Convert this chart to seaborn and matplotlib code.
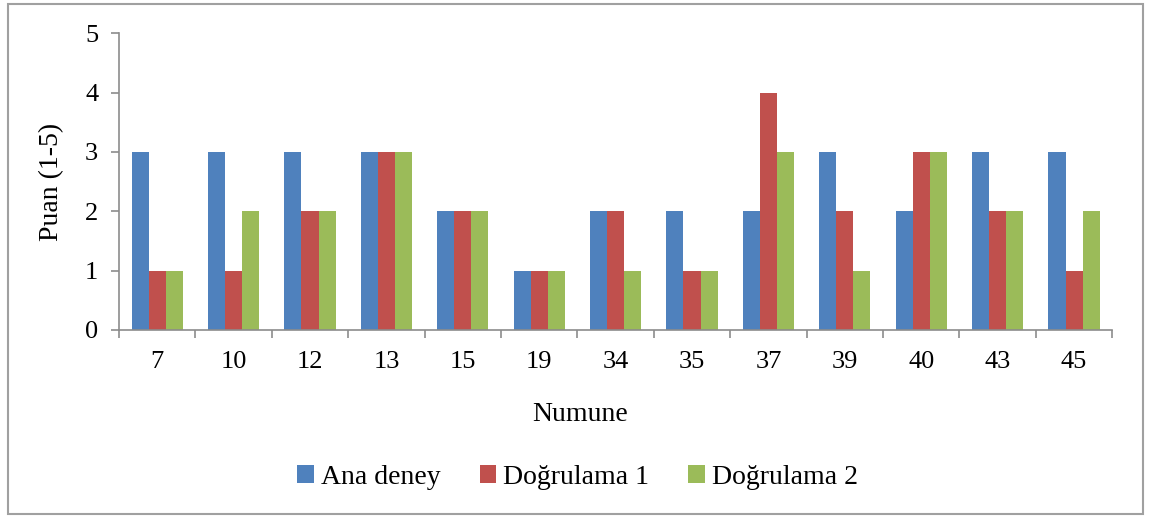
import matplotlib
matplotlib.use("Agg")
import matplotlib.pyplot as plt
from matplotlib.patches import Rectangle
import seaborn as sns
import pandas as pd

categories = ["7", "10", "12", "13", "15", "19", "34", "35", "37", "39", "40", "43", "45"]
ana_deney = [3, 3, 3, 3, 2, 1, 2, 2, 2, 3, 2, 3, 3]
dogrulama_1 = [1, 1, 2, 3, 2, 1, 2, 1, 4, 2, 3, 2, 1]
dogrulama_2 = [1, 2, 2, 3, 2, 1, 1, 1, 3, 1, 3, 2, 2]
series_names = ["Ana deney", "Doğrulama 1", "Doğrulama 2"]
colors = ["#4F81BD", "#C0504D", "#9BBB59"]

rows = []
for name, vals in zip(series_names, [ana_deney, dogrulama_1, dogrulama_2]):
    for c, v in zip(categories, vals):
        rows.append({"Numune": c, "Puan": v, "Seri": name})
df = pd.DataFrame(rows)

sns.set_theme(style="white")
plt.rcParams["font.family"] = ["Liberation Serif", "DejaVu Serif"]
plt.rcParams["text.color"] = "black"
plt.rcParams["axes.labelcolor"] = "black"

fig = plt.figure(figsize=(11.55, 5.18), dpi=100)
ax = fig.add_axes([0.103, 0.363, 0.860, 0.573])

sns.barplot(data=df, x="Numune", y="Puan", hue="Seri", order=categories,
            hue_order=series_names, palette=colors, width=0.67,
            saturation=1, linewidth=0, ax=ax, legend=True)

ax.set_ylim(0, 5)
ax.set_xlim(-0.5, len(categories) - 0.5)
ax.set_yticks([0, 1, 2, 3, 4, 5])

ax.set_xlabel("Numune", fontsize=20, color="black")
ax.xaxis.label.set_va("center")
ax.xaxis.set_label_coords(0.464, -0.286)
ax.set_ylabel("Puan (1-5)", fontsize=20, color="black")
ax.yaxis.label.set_va("center")
ax.yaxis.set_label_coords(-0.068, 0.5)

axis_gray = "#8C8C8C"
for side in ["top", "right"]:
    ax.spines[side].set_visible(False)
for side in ["left", "bottom"]:
    ax.spines[side].set_color(axis_gray)
    ax.spines[side].set_linewidth(1.2)

ax.tick_params(axis="y", which="major", direction="out", length=6, width=1.2,
               color=axis_gray, labelcolor="black", labelsize=19, pad=9,
               left=True)
# x ticks sit on the boundaries between categories
ax.set_xticks(range(len(categories)))
ax.set_xticklabels(categories)
ax.tick_params(axis="x", which="major", length=0, labelsize=19, pad=15,
               labelcolor="black")
ax.set_xticks([i - 0.5 for i in range(len(categories) + 1)], minor=True)
ax.tick_params(axis="x", which="minor", direction="out", length=6, width=1.2,
               color=axis_gray, bottom=True)

handles, labels = ax.get_legend_handles_labels()
leg = ax.legend(handles, labels, loc="center", bbox_to_anchor=(0.500, 0.079),
                bbox_transform=fig.transFigure, ncol=3, frameon=False,
                fontsize=20, handlelength=0.6, handleheight=0.6,
                handletextpad=0.25, columnspacing=1.4, borderpad=0)
for t in leg.get_texts():
    t.set_color("black")

fig.patches.append(Rectangle((8 / 1155, 4 / 518), 1135 / 1155, 510 / 518,
                             transform=fig.transFigure, fill=False,
                             edgecolor="#A0A0A0", linewidth=1.5))

fig.savefig("out.png", dpi=100, facecolor="white")
